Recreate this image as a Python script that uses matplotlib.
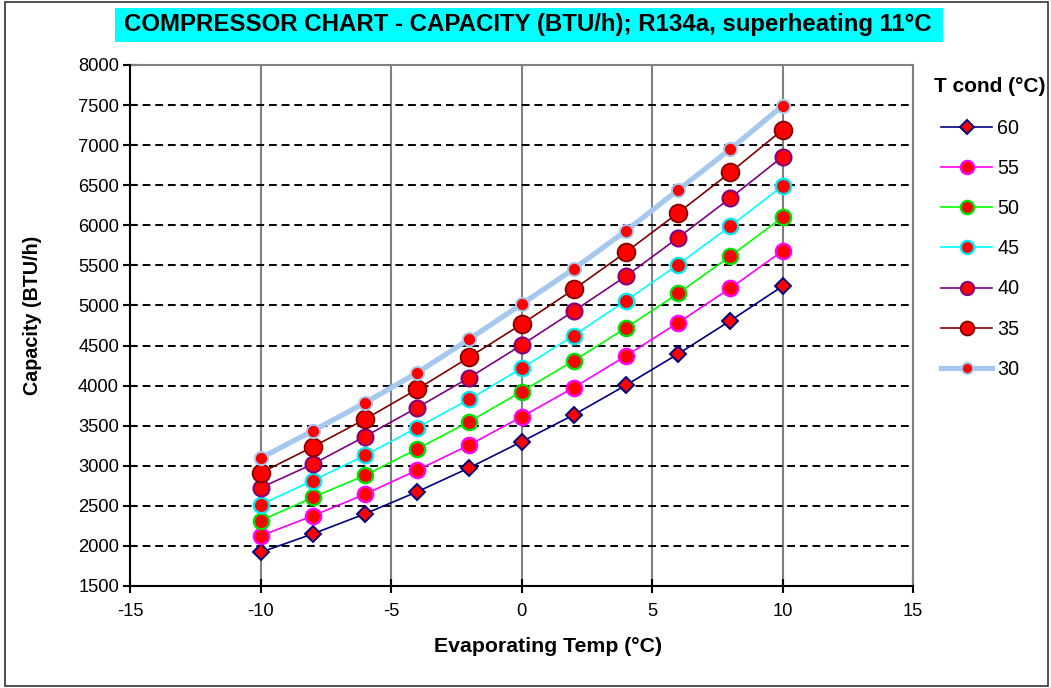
import matplotlib
matplotlib.use("Agg")
import matplotlib.pyplot as plt
from matplotlib.patches import Rectangle
from matplotlib.lines import Line2D

# Evaporating temperatures (°C)
evap_temp = [-10, -8, -6, -4, -2, 0, 2, 4, 6, 8, 10]

# Capacity (BTU/h) per condensing temperature
cap_60 = [1920, 2150, 2400, 2675, 2975, 3300, 3635, 4005, 4395, 4810, 5240]
cap_55 = [2125, 2375, 2645, 2945, 3260, 3610, 3975, 4370, 4785, 5215, 5680]
cap_50 = [2315, 2605, 2880, 3210, 3550, 3925, 4310, 4720, 5150, 5615, 6100]
cap_45 = [2515, 2815, 3130, 3475, 3830, 4215, 4625, 5060, 5510, 5990, 6490]
cap_40 = [2725, 3020, 3365, 3725, 4100, 4505, 4930, 5365, 5845, 6340, 6855]
cap_35 = [2910, 3235, 3580, 3955, 4355, 4765, 5200, 5665, 6155, 6660, 7190]
cap_30 = [3095, 3435, 3785, 4160, 4580, 5015, 5455, 5930, 6440, 6950, 7490]

cond_labels = ["60", "55", "50", "45", "40", "35", "30"]

x_ticks = [-15, -10, -5, 0, 5, 10, 15]
y_ticks = [1500, 2000, 2500, 3000, 3500, 4000, 4500, 5000, 5500, 6000,
           6500, 7000, 7500, 8000]

title_text = "COMPRESSOR CHART - CAPACITY (BTU/h); R134a, superheating 11°C"
x_label = "Evaporating Temp (°C)"
y_label = "Capacity (BTU/h)"
legend_title = "T cond (°C)"

plt.rcParams["font.family"] = ["Liberation Sans", "DejaVu Sans"]
plt.rcParams["axes.unicode_minus"] = False

W, H = 1051, 688
fig = plt.figure(figsize=(W / 100, H / 100), dpi=100)
fig.patch.set_facecolor("white")

# outer frame of the chart
fig.add_artist(Rectangle((5 / W, 2 / H), (1048 - 5) / W, (686 - 2) / H,
                         transform=fig.transFigure, fill=False,
                         edgecolor="#333333", linewidth=1.2))

ax = fig.add_axes([130 / W, 1 - 586 / H, (913 - 130) / W, (586 - 65) / H])

styles = [
    # data, line colour, line width, marker, marker size, edge colour, edge width, legend marker size
    (cap_60, "#000080", 1.2, "D", 8.0, "#000080", 1.4, 7.0),
    (cap_55, "#FF00FF", 1.2, "o", 11.0, "#FF00FF", 1.7, 9.5),
    (cap_50, "#00FF00", 1.2, "o", 11.0, "#00E000", 1.7, 9.5),
    (cap_45, "#00FFFF", 1.2, "o", 11.0, "#00E8F0", 1.7, 9.5),
    (cap_40, "#800080", 1.2, "o", 11.5, "#800080", 1.5, 9.5),
    (cap_35, "#800000", 1.2, "o", 12.8, "#800000", 1.3, 10.0),
    (cap_30, "#A6C8EE", 3.8, "o", 9.5, "#A6C8EE", 1.4, 8.0),
]

handles = []
for (vals, lc, lw, mk, ms, mec, mew, lms), lab in zip(styles, cond_labels):
    ax.plot(evap_temp, vals, color=lc, linewidth=lw, marker=mk,
            markersize=ms, markerfacecolor="#FF0000",
            markeredgecolor=mec, markeredgewidth=mew,
            zorder=3, clip_on=False)
    handles.append(Line2D([], [], color=lc, linewidth=lw, marker=mk,
                          markersize=lms, markerfacecolor="#FF0000",
                          markeredgecolor=mec, markeredgewidth=mew,
                          label=lab))

ax.set_xlim(-15, 15)
ax.set_ylim(1500, 8000)
ax.set_xticks(x_ticks)
ax.set_yticks(y_ticks)

# gridlines: solid grey verticals, dashed black horizontals
for xv in x_ticks[1:]:
    ax.axvline(xv, color="#808080", linewidth=1.5, zorder=1)
for yv in y_ticks[1:]:
    ax.axhline(yv, color="black", linewidth=1.4, linestyle=(0, (4, 2.5)),
               zorder=1.5)

for side in ("top", "right"):
    ax.spines[side].set_color("#808080")
    ax.spines[side].set_linewidth(1.5)
for side in ("left", "bottom"):
    ax.spines[side].set_color("black")
    ax.spines[side].set_linewidth(1.5)
    ax.spines[side].set_zorder(4)

ax.tick_params(axis="both", direction="inout", length=10, width=1.5,
               labelsize=13.2, colors="black")
ax.tick_params(axis="y", pad=3)
ax.tick_params(axis="x", pad=7)

fig.text(33 / W, 1 - 315 / H, y_label, rotation=90, ha="center",
         va="center", fontsize=14.2, fontweight="bold")
fig.text(548 / W, 1 - 646 / H, x_label, ha="center", va="center",
         fontsize=15.3, fontweight="bold")

# title banner
fig.add_artist(Rectangle((115 / W, 1 - 42 / H), (943 - 115) / W, 34 / H,
                         transform=fig.transFigure, facecolor="#00FFFF",
                         edgecolor="none"))
fig.text(528 / W, 1 - 25 / H, title_text, ha="center", va="center",
         fontsize=17.3, fontweight="bold")

# legend with its heading placed separately
fig.text(934 / W, 1 - 86 / H, legend_title, ha="left", va="center",
         fontsize=15.0, fontweight="bold")
leg = fig.legend(handles=handles, loc="upper left",
                 bbox_to_anchor=(941 / W, 1 - 119 / H), frameon=False,
                 fontsize=14.2, handlelength=2.6,
                 handletextpad=0.25, labelspacing=1.07, borderaxespad=0,
                 borderpad=0)

fig.savefig("out.png", dpi=100, facecolor="white")
